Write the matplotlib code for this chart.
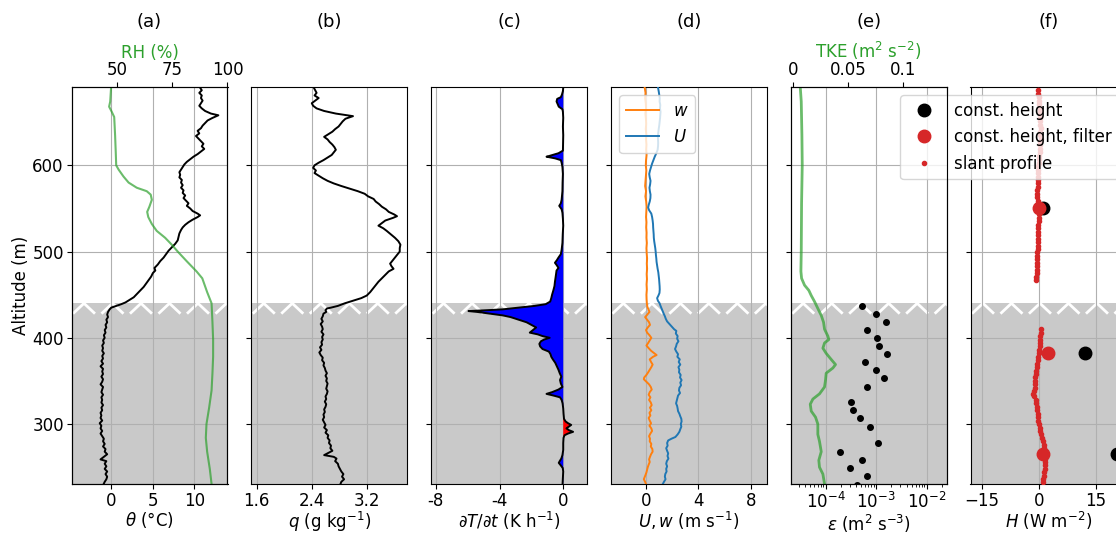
import numpy as np
import matplotlib
matplotlib.use("Agg")
import matplotlib.pyplot as plt
from matplotlib.transforms import blended_transform_factory

plt.rcParams["font.size"] = 12
plt.rcParams["font.family"] = ["DejaVu Sans"]
plt.rcParams["xtick.major.pad"] = 2.0
plt.rcParams["ytick.major.pad"] = 2.0
plt.rcParams["axes.labelpad"] = 1.5

# ---------------- data ----------------
ylim = (230.5, 690.8)
cloud_top = 440.0
cloud_band_bottom = 428.0

theta_alt = [690, 687, 684, 681, 678, 675, 672, 669, 666, 663, 660, 658, 655, 652, 649, 646, 643, 640, 637, 634,
             631, 628, 625, 622, 619, 616, 613, 610, 607, 604, 601, 598, 595, 592, 589, 586, 583, 580, 577, 574,
             571, 568, 565, 562, 559, 556, 553, 550, 547, 544, 542, 540, 537, 534, 531, 528, 525, 521, 517, 513,
             509, 505, 501, 497, 493, 489, 485, 481, 478, 475, 471, 467, 463, 459, 455, 451, 447, 444, 441, 439,
             437, 435, 433, 430, 427, 424, 421, 418, 415, 412, 409, 406, 403, 400, 397, 394, 391, 388, 385, 382,
             379, 376, 373, 370, 367, 364, 361, 358, 355, 352, 349, 346, 343, 340, 337, 334, 331, 328, 325, 322,
             319, 316, 313, 310, 307, 304, 301, 298, 295, 292, 289, 286, 283, 280, 277, 274, 271, 268, 265, 262,
             259, 257, 254, 251, 248, 245, 242, 239, 236, 233, 231]
theta = [10.7, 10.9, 10.6, 10.9, 10.8, 11.0, 10.8, 10.6, 10.9, 11.3, 12.0, 12.9, 12.2, 11.6, 11.3, 11.0, 10.8, 10.4, 10.6, 10.2,
         10.5, 10.8, 11.1, 10.9, 11.2, 10.8, 10.4, 9.9, 9.5, 9.1, 8.8, 8.6, 8.4, 8.2, 8.3, 8.2, 8.5, 8.4, 8.6, 8.4,
         8.7, 8.6, 8.9, 8.7, 9.0, 9.3, 9.1, 9.5, 9.8, 10.4, 10.7, 10.4, 9.8, 9.3, 8.9, 8.6, 8.4, 8.2, 8.1, 8.0,
         7.7, 7.3, 6.9, 6.6, 6.3, 5.9, 5.6, 5.2, 5.3, 5.0, 4.8, 4.5, 4.2, 3.9, 3.5, 3.1, 2.7, 2.2, 1.7, 1.2,
         0.6, 0.0, -0.2, -0.4, -0.5, -0.4, -0.6, -0.5, -0.7, -0.6, -0.8, -0.7, -0.9, -0.8, -1.0, -0.9, -1.1, -1.0, -1.1, -0.9,
         -1.1, -1.0, -1.2, -1.0, -1.3, -1.0, -1.1, -1.0, -1.2, -1.0, -1.1, -1.3, -1.0, -1.1, -1.2, -1.0, -1.2, -1.1, -1.2, -1.0,
         -1.2, -1.1, -1.3, -1.2, -1.3, -1.1, -1.4, -1.2, -1.3, -1.1, -1.3, -1.1, -0.9, -1.0, -0.8, -1.0, -0.7, -0.8, -0.5, -0.9,
         -1.3, -0.6, -0.8, -0.6, -0.8, -0.5, -0.7, -0.5, -0.6, -0.8, -0.9]

rh_alt = [690.7, 674, 668, 662, 656, 635, 615, 600, 595, 587, 580, 574, 570, 566, 560, 552, 546, 540, 532, 524,
          516, 508, 500, 489, 477, 469, 453, 440, 418, 398, 378, 359, 339, 319, 300, 284, 268, 248, 230.5]
rh = [47.4, 47.0, 46.5, 47.7, 48.8, 49.2, 49.5, 49.7, 50.8, 53.0, 55.3, 59.0, 63.5, 65.3, 65.8, 64.7, 63.7, 64.2, 65.8, 68.0,
      71.8, 74.8, 77.5, 81.5, 86.0, 88.6, 90.8, 92.8, 93.2, 93.5, 93.5, 93.2, 92.8, 91.7, 90.5, 90.2, 90.8, 92.0, 92.8]

q_alt = [690, 687, 684, 681, 678, 675, 672, 669, 666, 663, 660, 657, 654, 651, 648, 645, 642, 639, 636, 633,
         630, 627, 624, 621, 618, 615, 612, 609, 606, 603, 600, 597, 594, 591, 588, 585, 582, 579, 576, 573,
         570, 567, 564, 561, 558, 555, 552, 549, 546, 543, 541, 539, 536, 533, 530, 527, 524, 520, 516, 512,
         508, 504, 500, 496, 493, 489, 486, 483, 480, 477, 473, 469, 465, 461, 457, 453, 449, 446, 443, 440,
         437, 435, 434, 432, 430, 428, 425, 422, 419, 416, 413, 410, 407, 404, 401, 398, 395, 392, 389, 386,
         383, 380, 377, 374, 371, 368, 365, 362, 359, 356, 353, 350, 347, 344, 341, 338, 335, 332, 329, 326,
         323, 320, 317, 314, 311, 308, 305, 302, 299, 296, 293, 290, 287, 284, 281, 278, 275, 272, 269, 266,
         264, 262, 260, 257, 254, 251, 248, 245, 242, 239, 236, 233, 231]
q = [2.43, 2.45, 2.47, 2.44, 2.50, 2.45, 2.40, 2.42, 2.47, 2.58, 2.75, 3.00, 2.89, 2.85, 2.82, 2.79, 2.74, 2.70, 2.64, 2.58,
     2.63, 2.66, 2.70, 2.73, 2.75, 2.72, 2.69, 2.63, 2.57, 2.50, 2.44, 2.42, 2.46, 2.44, 2.50, 2.56, 2.63, 2.72, 2.83, 2.95,
     3.07, 3.17, 3.22, 3.30, 3.33, 3.38, 3.42, 3.48, 3.52, 3.60, 3.64, 3.58, 3.47, 3.42, 3.37, 3.44, 3.49, 3.55, 3.61, 3.66,
     3.69, 3.68, 3.68, 3.64, 3.61, 3.57, 3.54, 3.56, 3.59, 3.52, 3.47, 3.42, 3.37, 3.33, 3.29, 3.25, 3.20, 3.12, 3.00, 2.88,
     2.78, 2.68, 2.62, 2.60, 2.61, 2.57, 2.56, 2.54, 2.56, 2.53, 2.55, 2.56, 2.54, 2.57, 2.55, 2.56, 2.54, 2.55, 2.52, 2.54,
     2.51, 2.53, 2.56, 2.55, 2.58, 2.57, 2.59, 2.60, 2.62, 2.60, 2.62, 2.61, 2.63, 2.62, 2.61, 2.63, 2.62, 2.60, 2.61, 2.59,
     2.61, 2.60, 2.58, 2.59, 2.57, 2.58, 2.56, 2.58, 2.60, 2.58, 2.62, 2.60, 2.64, 2.63, 2.66, 2.65, 2.68, 2.67, 2.70, 2.63,
     2.58, 2.72, 2.76, 2.74, 2.78, 2.79, 2.81, 2.83, 2.86, 2.84, 2.87, 2.83, 2.82]

dtdt_alt = [690, 686, 682, 679, 677, 674, 671, 668, 665, 662, 655, 645, 635, 625, 617, 614, 611, 610, 608, 606,
            603, 598, 590, 580, 570, 560, 556, 553, 549, 545, 538, 530, 520, 510, 502, 497, 493, 490, 487, 484,
            481, 478, 474, 470, 465, 460, 455, 450, 446, 442, 439, 437, 435, 433, 432, 431, 430, 428, 426, 424,
            421, 418, 415, 412, 409, 406, 404, 402, 400, 398, 396, 393, 390, 387, 384, 381, 378, 375, 371, 367,
            363, 359, 355, 351, 347, 343, 340, 337, 335, 333, 331, 328, 324, 318, 312, 306, 303, 301, 299, 297,
            295, 293, 291, 289, 287, 284, 278, 270, 264, 260, 257, 255, 252, 249, 245, 238, 231]
dtdt = [0.0, -0.02, -0.08, -0.15, -0.38, -0.42, -0.35, -0.28, -0.05, -0.02, 0.0, -0.02, 0.0, -0.01, -0.02, -0.3, -0.85, -1.05, -0.5, -0.15,
        -0.1, -0.05, -0.02, -0.04, -0.05, -0.1, -0.15, -0.25, -0.1, -0.05, -0.02, 0.0, -0.03, -0.05, -0.1, -0.15, -0.3, -0.4, -0.52, -0.4,
        -0.3, -0.42, -0.45, -0.48, -0.52, -0.55, -0.62, -0.7, -0.75, -0.82, -1.1, -1.8, -2.8, -3.8, -4.8, -5.95, -5.4, -4.6, -3.8, -3.3,
        -2.8, -2.3, -2.0, -1.7, -1.9, -2.1, -1.6, -1.3, -0.85, -1.2, -1.4, -1.5, -1.45, -1.3, -0.9, -0.8, -0.75, -0.65, -0.5, -0.4,
        -0.3, -0.22, -0.12, -0.2, -0.15, -0.05, -0.3, -0.7, -1.05, -0.6, -0.2, -0.1, -0.04, 0.0, 0.02, 0.05, 0.15, 0.3, 0.5, 0.35,
        0.2, 0.35, 0.62, 0.3, 0.08, 0.02, 0.0, 0.0, -0.05, -0.12, -0.22, -0.28, -0.15, -0.03, 0.0, -0.02, -0.04]

u_alt = [690, 686, 682, 678, 674, 670, 666, 662, 658, 654, 650, 646, 642, 638, 634, 630, 626, 622, 618, 614,
         610, 606, 602, 598, 594, 590, 586, 582, 578, 574, 570, 566, 562, 558, 554, 551, 548, 544, 540, 536,
         532, 528, 524, 520, 516, 512, 508, 504, 500, 496, 492, 488, 484, 480, 476, 472, 468, 464, 460, 456,
         452, 449, 446, 443, 440, 437, 434, 431, 428, 425, 422, 419, 416, 413, 410, 408, 405, 402, 399, 396,
         393, 390, 387, 384, 381, 378, 375, 372, 369, 366, 363, 360, 357, 354, 351, 348, 345, 342, 339, 336,
         333, 330, 327, 324, 321, 318, 315, 312, 309, 306, 303, 300, 297, 294, 291, 288, 285, 283, 281, 278,
         275, 272, 269, 266, 263, 260, 257, 254, 251, 248, 245, 242, 239, 236, 233, 231]
u_wind = [0.93, 0.98, 1.02, 1.06, 1.05, 1.10, 1.08, 1.12, 1.10, 1.08, 1.05, 1.02, 0.98, 0.95, 0.92, 0.93, 0.94, 0.93, 0.90, 0.80,
          0.68, 0.58, 0.48, 0.40, 0.32, 0.26, 0.30, 0.36, 0.33, 0.28, 0.31, 0.36, 0.35, 0.30, 0.22, 0.18, 0.25, 0.42, 0.48, 0.52,
          0.55, 0.56, 0.58, 0.60, 0.61, 0.64, 0.68, 0.72, 0.75, 0.77, 0.80, 0.82, 0.86, 0.90, 0.95, 0.98, 1.01, 1.03, 1.05, 1.06,
          1.04, 0.96, 0.86, 0.92, 1.05, 1.12, 1.20, 1.28, 1.36, 1.45, 1.52, 1.62, 1.80, 1.98, 2.15, 2.32, 2.28, 2.42, 2.38, 2.48,
          2.35, 2.30, 2.22, 2.32, 2.45, 2.40, 2.58, 2.50, 2.62, 2.48, 2.55, 2.52, 2.65, 2.60, 2.72, 2.62, 2.68, 2.55, 2.52, 2.60,
          2.45, 2.40, 2.35, 2.30, 2.38, 2.42, 2.45, 2.55, 2.62, 2.70, 2.72, 2.66, 2.70, 2.62, 2.55, 2.42, 2.25, 1.95, 1.70, 1.62,
          1.66, 1.55, 1.62, 1.70, 1.65, 1.72, 1.60, 1.55, 1.62, 1.55, 1.58, 1.48, 1.45, 1.50, 1.38, 1.31]

w_alt = [690, 684, 678, 672, 666, 660, 654, 648, 642, 636, 630, 624, 618, 612, 606, 600, 594, 588, 582, 576,
         570, 564, 558, 552, 546, 540, 534, 528, 522, 516, 510, 504, 498, 492, 486, 480, 474, 468, 462, 456,
         450, 445, 440, 436, 433, 430, 427, 424, 421, 418, 415, 412, 409, 406, 403, 400, 397, 394, 391, 388,
         385, 382, 380, 378, 375, 372, 369, 366, 363, 360, 357, 354, 352, 349, 346, 343, 340, 337, 334, 331,
         328, 325, 322, 319, 316, 313, 310, 307, 304, 301, 298, 295, 292, 289, 286, 283, 280, 277, 274, 271,
         268, 265, 262, 259, 256, 253, 250, 247, 244, 241, 238, 236, 233, 231]
w_wind = [-0.08, -0.02, -0.05, 0.0, 0.02, -0.03, 0.01, 0.03, 0.0, 0.04, 0.02, 0.05, 0.03, 0.06, 0.02, 0.0, 0.04, 0.01, -0.02, -0.05,
          0.02, -0.03, 0.03, 0.06, 0.04, 0.02, 0.05, 0.03, 0.06, 0.05, 0.08, 0.05, 0.07, 0.10, 0.08, 0.10, 0.07, 0.09, 0.06, 0.08,
          0.05, 0.06, 0.08, 0.12, 0.20, 0.28, 0.12, -0.05, 0.10, 0.25, 0.32, 0.15, 0.02, 0.10, 0.28, 0.42, 0.30, 0.18, 0.05, 0.22,
          0.40, 0.65, 0.82, 0.55, 0.30, 0.40, 0.52, 0.42, 0.30, 0.18, 0.05, -0.12, -0.15, 0.05, 0.25, 0.38, 0.45, 0.30, 0.22, 0.35,
          0.25, 0.38, 0.45, 0.32, 0.42, 0.28, 0.35, 0.22, 0.30, 0.40, 0.28, 0.42, 0.48, 0.35, 0.25, 0.32, 0.30, 0.42, 0.38, 0.50,
          0.52, 0.40, 0.32, 0.25, 0.30, 0.22, 0.15, 0.10, 0.05, -0.02, -0.10, -0.15, -0.05, 0.0]

tke_alt = [690.7, 674, 635, 600, 556, 500, 477, 469, 461, 455, 449, 442, 434, 426, 418, 410, 402, 398, 394, 388,
           382, 375, 369, 365, 359, 351, 343, 335, 329, 323, 315, 308, 300, 288, 280, 268, 258, 250, 242, 230.5]
tke = [0.0067, 0.0076, 0.0082, 0.0085, 0.0079, 0.0076, 0.0073, 0.0079, 0.0106, 0.0145, 0.0167, 0.0197, 0.0227, 0.0258, 0.0279,
       0.0288, 0.0318, 0.0327, 0.0288, 0.0273, 0.0303, 0.0348, 0.0388, 0.0364, 0.0303, 0.0297, 0.0288, 0.0242, 0.0182, 0.0158,
       0.0167, 0.0206, 0.0227, 0.0227, 0.0242, 0.0258, 0.0236, 0.0242, 0.0273, 0.0288]

eps_alt = [436.8, 427.4, 418.7, 409.2, 399.8, 390.3, 381.6, 371.8, 362.3, 352.9, 343.4, 325.7, 315.8, 306.7, 296.9,
           277.6, 267.3, 258.3, 249.2, 239.3, 229.9]
eps = [5.2e-4, 9.8e-4, 1.53e-3, 6.5e-4, 1.06e-3, 1.13e-3, 1.67e-3, 6.0e-4, 9.8e-4, 1.40e-3, 6.6e-4, 3.2e-4, 3.5e-4,
       4.8e-4, 7.5e-4, 1.11e-3, 1.89e-4, 5.3e-4, 3.1e-4, 6.5e-4, 4.2e-4]

slant_alt = [687, 683, 679, 675, 671, 667, 663, 659, 655, 651, 647, 643, 639, 635, 631, 627, 623, 619, 615, 611,
             607, 603, 599, 595, 591, 587, 583, 579, 575, 571, 567, 563, 559, 555, 551, 547, 543, 539, 535, 531,
             527, 523, 519, 515, 511, 507, 503, 499, 495, 491, 487, 483, 479, 475, 471, 467,
             410, 406, 402, 398, 394, 390, 386, 382, 378, 374, 370, 366, 362, 358, 354, 350, 346, 342, 338, 335,
             332, 328, 324, 320, 316, 312, 308, 304, 300, 296, 292, 288, 284, 280, 276, 272, 268, 264, 260, 256,
             252, 248, 244, 240, 236, 233]
slant_h = [-0.2, -0.1, 0.0, 0.0, 0.1, 0.2, 0.2, 0.3, 0.3, 0.4, 0.4, 0.5, 0.4, 0.4, 0.5, 0.4, 0.3, 0.3, 0.2, 0.1,
           0.1, 0.0, -0.1, -0.1, -0.2, -0.2, -0.3, -0.3, -0.3, -0.4, -0.4, -0.4, -0.3, -0.2, -0.2, -0.1, 0.0, 0.0, 0.0, -0.1,
           -0.1, -0.2, -0.2, -0.2, -0.3, -0.3, -0.3, -0.4, -0.4, -0.4, -0.5, -0.5, -0.6, -0.6, -0.7, -0.8,
           0.7, 0.6, 0.4, 0.3, 0.3, 0.2, 0.1, 0.0, -0.2, -0.3, -0.5, -0.6, -0.7, -0.8, -0.9, -1.0, -1.1, -1.1, -1.3, -1.5,
           -1.2, -0.8, -0.7, -0.5, -0.4, -0.3, -0.2, -0.2, 0.0, 0.2, 0.4, 0.6, 0.9, 1.1, 1.3, 1.4, 1.5, 1.6, 1.6, 1.6,
           1.5, 1.5, 1.4, 1.3, 1.2, 1.1]

const_alt = [550, 382.4, 265]
const_h = [1.0, 12.1, 20.5]
const_h_filter = [0.1, 2.3, 1.0]

titles = ["(a)", "(b)", "(c)", "(d)", "(e)", "(f)"]

# ---------------- figure ----------------
W, H = 1116, 534
fig = plt.figure(figsize=(W / 100, H / 100), dpi=100)
lefts = [71.5, 251.3, 431.1, 610.9, 790.7, 970.5]
ax_w = 156.0
ax_bottom = (H - 484) / H
ax_h = (484 - 87) / H

GRAY = "0.79"
GREEN = "tab:green"

axes = []
for i, lx in enumerate(lefts):
    ax = fig.add_axes([lx / W, ax_bottom, ax_w / W, ax_h])
    ax.set_ylim(*ylim)
    ax.set_yticks([300, 400, 500, 600])
    ax.grid(True, color="#b0b0b0", lw=0.8)
    ax.axhspan(ylim[0], cloud_top, color=GRAY, lw=0, zorder=0.6)
    # zigzag cloud-top marker
    period = 28.5 / ax_w
    half = 11.0 / ax_w
    peaks = np.arange(-1, 8) * period + 0.08
    zx, zy = [], []
    for p in peaks:
        zx += [p - half, p, p + half, np.nan]
        zy += [cloud_band_bottom, cloud_top, cloud_band_bottom, np.nan]
    tr = blended_transform_factory(ax.transAxes, ax.transData)
    ax.plot(zx, zy, color="white", lw=2.0, transform=tr, zorder=0.7, solid_capstyle="butt")
    if i > 0:
        ax.set_yticklabels([])
    fig.text((lx + ax_w / 2) / W, 1 - 22 / H, titles[i], ha="center", va="center", fontsize=13)
    axes.append(ax)

axa, axb, axc, axd, axe, axf = axes

# (a)
axa.plot(theta, theta_alt, color="black", lw=1.4, zorder=3)
axa.set_xlim(-4.8, 14.0)
axa.set_xticks([0, 5, 10])
axa.set_xlabel(r"$\theta$ (°C)", labelpad=0.5)
axa.set_ylabel("Altitude (m)")
axa2 = axa.twiny()
axa2.plot(rh, rh_alt, color=GREEN, alpha=0.7, lw=1.5)
axa2.set_xlim(29.5, 100)
axa2.set_xticks([50, 75, 100])
axa2.set_xlabel("RH (%)", color=GREEN, labelpad=2.5)
axa2.set_ylim(*ylim)

# (b)
axb.plot(q, q_alt, color="black", lw=1.4, zorder=3)
axb.set_xlim(1.52, 3.79)
axb.set_xticks([1.6, 2.4, 3.2])
axb.set_xticklabels(["1.6", "2.4", "3.2"])
axb.set_xlabel(r"$q$ (g kg$^{-1}$)", labelpad=0.5)

# (c)
dt_arr = np.array(dtdt)
alt_arr = np.array(dtdt_alt)
axc.fill_betweenx(alt_arr, dt_arr, 0, where=dt_arr <= 0, color="blue", interpolate=True, lw=0, zorder=2)
axc.fill_betweenx(alt_arr, dt_arr, 0, where=dt_arr >= 0, color="red", interpolate=True, lw=0, zorder=2)
axc.plot(dt_arr, alt_arr, color="black", lw=1.4, zorder=3)
axc.set_xlim(-8.3, 1.5)
axc.set_xticks([-8, -4, 0])
axc.set_xticklabels(["-8", "-4", "0"])
axc.set_xlabel(r"$\partial T/\partial t$ (K h$^{-1}$)", labelpad=0.5)

# (d)
axd.plot(w_wind, w_alt, color="tab:orange", lw=1.4, label="$w$", zorder=3)
axd.plot(u_wind, u_alt, color="tab:blue", lw=1.4, label="$U$", zorder=3)
axd.set_xlim(-2.65, 9.2)
axd.set_xticks([0, 4, 8])
axd.set_xlabel(r"$U, w$ (m s$^{-1}$)", labelpad=0.5)
axd.legend(loc="upper left")

# (e)
axe.set_xscale("log")
axe.plot(eps, eps_alt, "o", color="black", ms=4, zorder=3)
axe.set_xlim(2.04e-5, 2.48e-2)
axe.set_xticks([1e-4, 1e-3, 1e-2])
axe.set_xlabel(r"$\varepsilon$ (m$^2$ s$^{-3}$)", labelpad=0.5)
axe.set_ylim(*ylim)
axe2 = axe.twiny()
axe2.plot(tke, tke_alt, color=GREEN, alpha=0.7, lw=2.0)
axe2.set_xlim(-0.002, 0.14)
axe2.set_xticks([0, 0.05, 0.1])
axe2.set_xticklabels(["0", "0.05", "0.1"])
axe2.set_xlabel(r"TKE (m$^2$ s$^{-2}$)", color=GREEN, labelpad=2.5)
axe2.set_ylim(*ylim)

# (f)
axf.plot(const_h, const_alt, "o", color="black", ms=9, label="const. height", zorder=3)
axf.plot(const_h_filter, const_alt, "o", color="tab:red", ms=9, label="const. height, filter", zorder=4)
axf.plot(slant_h, slant_alt, "o", color="tab:red", ms=3, label="slant profile", zorder=3)
axf.set_xlim(-18, 23.1)
axf.set_xticks([-15, 0, 15])
axf.set_xlabel(r"$H$ (W m$^{-2}$)", labelpad=0.5)
axf.legend(loc="upper right")

fig.savefig("out.png", dpi=100)
